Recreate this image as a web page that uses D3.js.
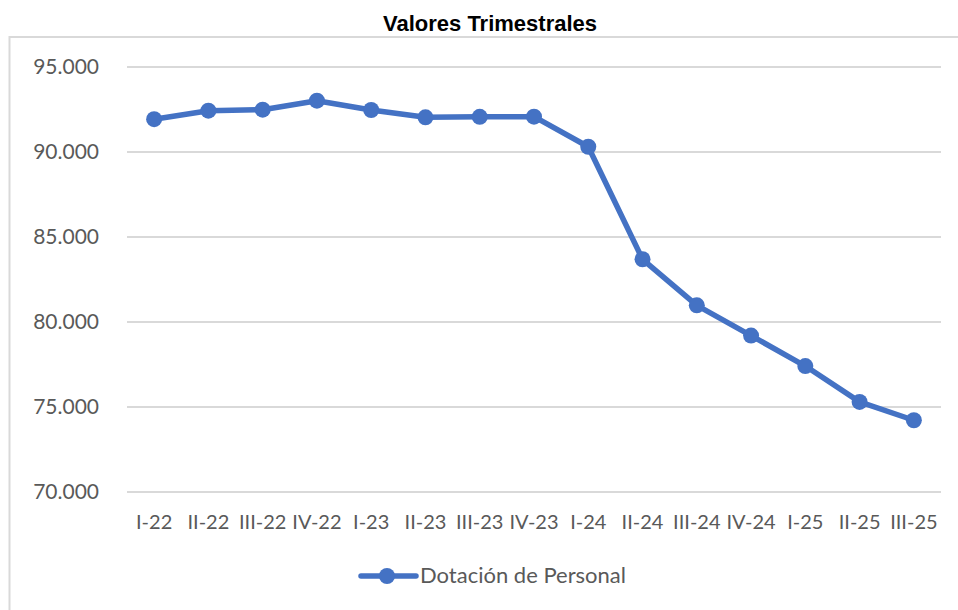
<!DOCTYPE html>
<html><head><meta charset="utf-8">
<script src="https://cdn.jsdelivr.net/npm/d3@7"></script>
<style>body{margin:0;background:#fff}svg{display:block}</style>
</head><body>
<svg id="c" width="958" height="610"></svg>
<script>
const categories = ["I-22","II-22","III-22","IV-22","I-23","II-23","III-23","IV-23","I-24","II-24","III-24","IV-24","I-25","II-25","III-25"];
const values = [91900,92400,92460,92990,92440,92010,92040,92050,90280,83660,80950,79170,77380,75270,74190];
const yTicks = [70000,75000,80000,85000,90000,95000];
const seriesName = "Dotación de Personal";
const chartTitle = "Valores Trimestrales";

(function(){
const svg = d3.select("#c");
const mL = 127, mR = 941, mT = 66.5, mB = 491.5;
const color = "#4472C4";
const font = "Lato, 'Open Sans', sans-serif";

svg.append("rect").attr("x",9.5).attr("y",37).attr("width",970).attr("height",600)
  .attr("fill","none").attr("stroke","#d9d9d9").attr("stroke-width",2);

svg.append("text").attr("x",490).attr("y",31).attr("text-anchor","middle")
  .attr("font-family","'Liberation Sans', Arial, sans-serif").attr("font-weight","bold")
  .attr("font-size",22).attr("fill","#000").text(chartTitle);

const x = d3.scaleBand().domain(categories).range([mL,mR]);
const y = d3.scaleLinear().domain([70000,95000]).range([mB,mT]);
const fmt = v => d3.format(",")(v).replace(/,/g,".");

const yAxis = d3.axisLeft(y).tickValues(yTicks).tickSize(-(mR-mL)).tickFormat(fmt).tickPadding(28);
const ga = svg.append("g").attr("transform",`translate(${mL},0)`).call(yAxis);
ga.select(".domain").remove();
ga.selectAll(".tick line").attr("stroke","#d9d9d9").attr("stroke-width",2);
ga.selectAll(".tick text").attr("fill","#595959").attr("font-size",21).attr("font-family",font);

const xAxis = d3.axisBottom(x).tickSize(0).tickPadding(23);
const gx = svg.append("g").attr("transform",`translate(0,${mB})`).call(xAxis);
gx.select(".domain").remove();
gx.selectAll(".tick text").attr("fill","#595959").attr("font-size",20).attr("font-family",font);

const line = d3.line().x((d,i)=>x(categories[i])+x.bandwidth()/2).y(d=>y(d));
svg.append("path").datum(values).attr("d",line).attr("fill","none")
  .attr("stroke",color).attr("stroke-width",5.5).attr("stroke-linejoin","round");
svg.selectAll("circle.pt").data(values).join("circle").attr("class","pt")
  .attr("cx",(d,i)=>x(categories[i])+x.bandwidth()/2).attr("cy",d=>y(d)).attr("r",8).attr("fill",color);

const lg = svg.append("g");
lg.append("line").attr("x1",361).attr("x2",416).attr("y1",576).attr("y2",576)
  .attr("stroke",color).attr("stroke-width",5.5).attr("stroke-linecap","round");
lg.append("circle").attr("cx",387).attr("cy",576).attr("r",8).attr("fill",color);
lg.append("text").attr("x",420).attr("y",583).attr("fill","#595959").attr("font-size",22)
  .attr("font-family",font).text(seriesName);
})();
</script>
</body></html>
